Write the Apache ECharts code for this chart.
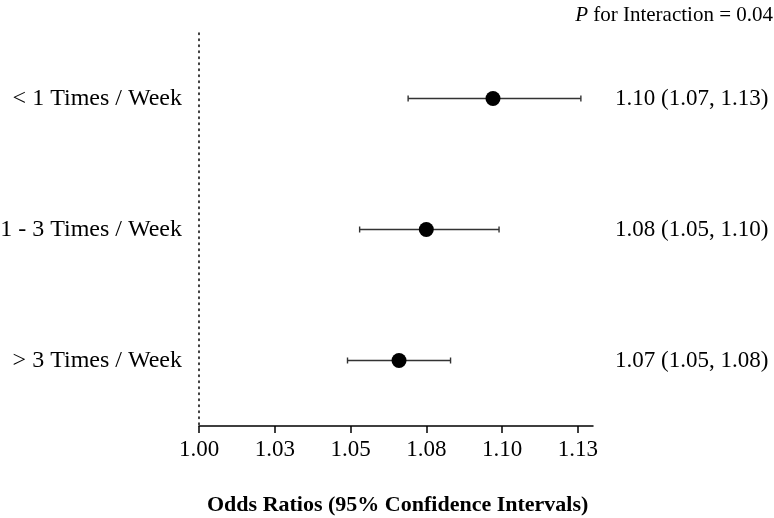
<!DOCTYPE html>
<html>
<head>
<meta charset="utf-8">
<script src="https://cdn.jsdelivr.net/npm/echarts@6/dist/echarts.min.js"></script>
<style>html,body{margin:0;padding:0;background:#fff}#c{width:774px;height:518px}</style>
</head>
<body>
<div id="c"></div>
<script>
const categories = ["< 1 Times / Week", "1 - 3 Times / Week", "> 3 Times / Week"];
const oddsRatios = [1.097, 1.075, 1.066];
const lowerCI = [1.069, 1.053, 1.049];
const upperCI = [1.126, 1.099, 1.083];
const estimateLabels = ["1.10 (1.07, 1.13)", "1.08 (1.05, 1.10)", "1.07 (1.05, 1.08)"];
const tickValues = [1.000, 1.025, 1.050, 1.075, 1.100, 1.125];
const tickLabels = ["1.00", "1.03", "1.05", "1.08", "1.10", "1.13"];
const interactionText = "0.04";

const FONT = "Liberation Serif";
const chart = echarts.init(document.getElementById('c'));

const errData = categories.map((c, i) => [i, lowerCI[i], upperCI[i]]);
const ptData = categories.map((c, i) => [oddsRatios[i], i]);

chart.setOption({
  animation: false,
  backgroundColor: '#fff',
  grid: { left: 199, right: 181, top: 33, bottom: 92, containLabel: false, outerBoundsMode: 'none' },
  title: {
    right: -4, top: 0,
    text: '{i|P} for Interaction = ' + interactionText,
    textStyle: {
      fontFamily: FONT, fontSize: 21, fontWeight: 'normal', color: '#000',
      rich: { i: { fontFamily: FONT, fontSize: 21, fontStyle: 'italic', color: '#000' } }
    }
  },
  graphic: [{
    type: 'text', left: 207, top: 494,
    style: { text: 'Odds Ratios (95% Confidence Intervals)', font: 'bold 22px "Liberation Serif"', fill: '#000' }
  }],
  xAxis: {
    type: 'value', min: 1.0, max: 1.13,
    splitLine: { show: false },
    axisLine: { show: true, onZero: false, lineStyle: { color: '#000', width: 1.5 } },
    axisTick: { show: true, length: 7, customValues: tickValues, lineStyle: { color: '#000', width: 1.5 } },
    axisLabel: {
      customValues: tickValues, margin: 12,
      fontFamily: FONT, fontSize: 23, color: '#000',
      formatter: v => tickLabels[Math.round((v - 1) / 0.025)]
    }
  },
  yAxis: [{
    type: 'category', data: categories, inverse: true,
    axisLine: { show: true, onZero: false, lineStyle: { color: '#000', width: 1.5, type: [1.5, 4.5] } },
    axisTick: { show: false },
    splitLine: { show: false },
    axisLabel: { margin: 17, fontFamily: FONT, fontSize: 24, color: '#000' }
  }, {
    type: 'category', data: estimateLabels, inverse: true, position: 'right',
    axisLine: { show: false }, axisTick: { show: false }, splitLine: { show: false },
    axisLabel: { margin: 22, fontFamily: FONT, fontSize: 23, color: '#000' }
  }],
  series: [{
    type: 'custom',
    yAxisIndex: 0,
    data: errData,
    encode: { x: [1, 2], y: 0 },
    renderItem: function (params, api) {
      const idx = api.value(0);
      const a = api.coord([api.value(1), idx]);
      const b = api.coord([api.value(2), idx]);
      const cap = 3;
      const st = { stroke: '#333', lineWidth: 1.4 };
      return {
        type: 'group',
        children: [
          { type: 'line', shape: { x1: a[0], y1: a[1], x2: b[0], y2: b[1] }, style: st },
          { type: 'line', shape: { x1: a[0], y1: a[1] - cap, x2: a[0], y2: a[1] + cap }, style: st },
          { type: 'line', shape: { x1: b[0], y1: b[1] - cap, x2: b[0], y2: b[1] + cap }, style: st }
        ]
      };
    },
    z: 2
  }, {
    type: 'scatter',
    yAxisIndex: 0,
    data: ptData,
    symbol: 'circle',
    symbolSize: 15,
    itemStyle: { color: '#000', opacity: 1 },
    z: 3
  }]
});
</script>
</body>
</html>
